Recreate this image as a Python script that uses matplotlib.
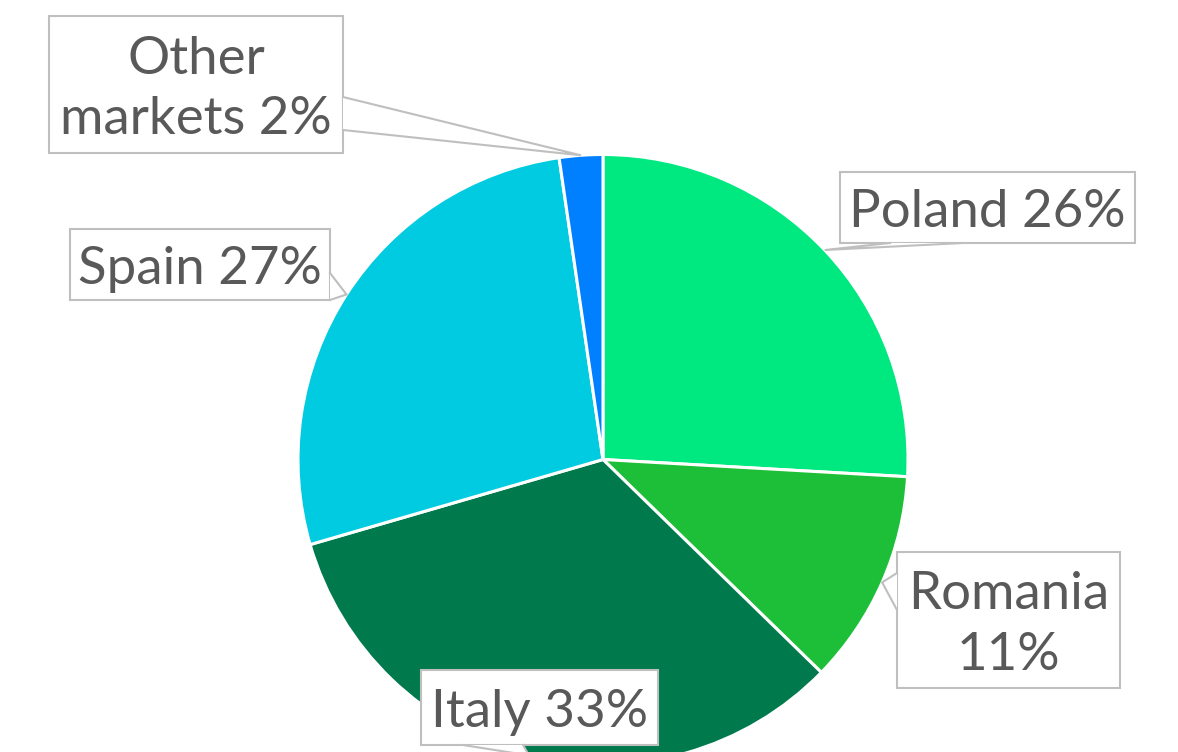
import numpy as np
import matplotlib.pyplot as plt
from matplotlib.patches import Rectangle, Polygon

# market shares (labels show rounded values)
markets = ['Poland', 'Romania', 'Italy', 'Spain', 'Other\nmarkets']
shares = [25.9, 11.4, 33.2, 27.2, 2.3]
labels = ['Poland 26%', 'Romania\n11%', 'Italy 33%', 'Spain 27%', 'Other\nmarkets 2%']
colors = ['#00E880', '#1DBF38', '#007A4D', '#00CBE0', '#0080FF']

W, H = 1178, 752

# label boxes in pixel layout (x0, y0, x1, y1) measured from top-left
boxes = [
    (840, 172, 1135, 243),
    (897, 552, 1120, 688),
    (421, 670, 658, 745),
    (70, 229, 330, 300),
    (49, 16, 343, 153),
]
# where the pointer leaves the box: two base points
bases = [
    ((890, 243), (963, 243)),
    ((897, 573), (897, 610)),
    ((463, 745), (523, 745)),
    ((330, 273), (330, 300)),
    ((343, 97), (343, 130)),
]

plt.rcParams['font.family'] = ['Lato', 'DejaVu Sans']

fig = plt.figure(figsize=(W / 100, H / 100), dpi=100)
ax = fig.add_axes([0, 0, 1, 1])

cx, cy, r = 603, H - 459.5, 305
wedges, _ = ax.pie(shares, colors=colors, startangle=90, counterclock=False,
                   center=(cx, cy), radius=r, frame=True,
                   wedgeprops=dict(edgecolor='white', linewidth=2.2))
ax.set_xlim(0, W)
ax.set_ylim(0, H)
ax.set_aspect('equal')
ax.axis('off')

edge = '#BFBFBF'
for w, lab, (x0, y0, x1, y1), (b1, b2) in zip(wedges, labels, boxes, bases):
    mid = np.deg2rad((w.theta1 + w.theta2) / 2)
    tip = (cx + r * np.cos(mid), cy + r * np.sin(mid))
    p1 = (b1[0], H - b1[1])
    p2 = (b2[0], H - b2[1])
    ax.add_patch(Rectangle((x0, H - y1), x1 - x0, y1 - y0, facecolor='white',
                           edgecolor=edge, linewidth=1.5, zorder=5))
    ax.add_patch(Polygon([p1, tip, p2], closed=True, facecolor='white',
                         edgecolor='none', zorder=6))
    ax.plot([p1[0], tip[0], p2[0]], [p1[1], tip[1], p2[1]], color=edge,
            linewidth=1.5, zorder=7, solid_joinstyle='miter')
    ax.text((x0 + x1) / 2, H - (y0 + y1) / 2 - 5, lab, ha='center', va='center',
            fontsize=38, color='#595959', linespacing=1.35, zorder=8)

fig.savefig('out.png', dpi=100)
